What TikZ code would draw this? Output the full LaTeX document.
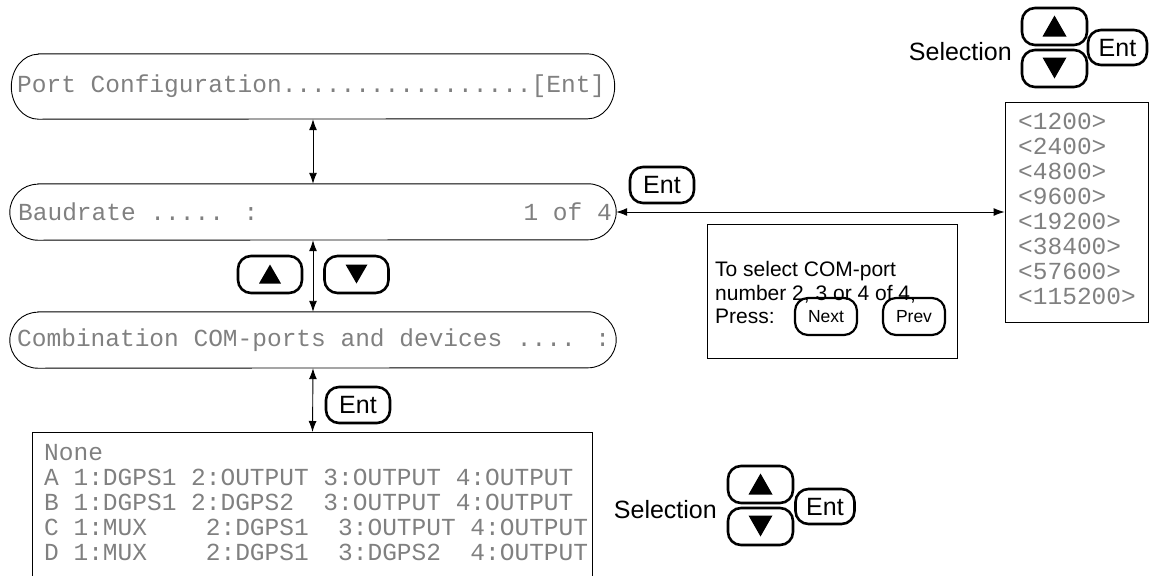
\documentclass[tikz,border=0pt]{standalone}
\usepackage{fontspec}
\setmainfont{Liberation Sans}
\newfontfamily\lcdfont{Liberation Mono}
\usetikzlibrary{arrows.meta}
\newcommand\lcdoutline[3]{%
  \draw[plain] ([xshift=#2]#1.north west) -- ([xshift=-#2]#1.north east)
    arc[start angle=90,end angle=-90,x radius=#2,y radius=#3]
    -- ([xshift=#2]#1.south west)
    arc[start angle=270,end angle=90,x radius=#2,y radius=#3] -- cycle;}
\tikzset{
  lcd/.style={font=\lcdfont\fontsize{24.5}{25}\selectfont, text=black!50, inner sep=0pt},
  slot/.style={draw=none, rectangle, inner sep=0pt},
  plain/.style={draw, line width=0.9pt},
  keybtn/.style={draw, line width=2.6pt, rounded corners=13pt, inner sep=0pt,
    minimum width=64pt, minimum height=37pt, font=\fontsize{25}{25}\selectfont},
  keysmall/.style={keybtn, line width=2.2pt, minimum width=62pt, font=\fontsize{17.5}{18}\selectfont},
  label/.style={inner sep=0pt, font=\fontsize{25}{25}\selectfont},
  infotext/.style={inner sep=0pt, anchor=west, font=\fontsize{21}{21}\selectfont},
  link/.style={draw, line width=0.9pt, {Latex[length=11pt,width=8pt]}-{Latex[length=11pt,width=8pt]}}
}
\begin{document}
\begin{tikzpicture}[x=1pt,y=1pt]
\useasboundingbox (0,0) rectangle (1152,-576);

% LCD display rows
\node[slot, minimum width=603pt, minimum height=65pt] (p1) at (313,-86.5) {};
\lcdoutline{p1}{27pt}{32.5pt}
\node[lcd, anchor=west] (t1) at (17,-86.5) {Port Configuration.................[Ent]};

\node[slot, minimum width=606pt, minimum height=56pt] (p2) at (313,-212) {};
\lcdoutline{p2}{28pt}{28pt}
\node[lcd, anchor=west] (t2) at (18,-212) {Baudrate ..... :};
\node[lcd, anchor=east] (t2b) at (612,-212) {1 of 4};

\node[slot, minimum width=606pt, minimum height=56pt] (p3) at (313,-340) {};
\lcdoutline{p3}{28pt}{28pt}
\node[lcd, anchor=west] (t3) at (17,-340) {Combination COM-ports and devices .... :};

% options box (open at the bottom)
\node[slot, minimum width=559pt, minimum height=160pt, anchor=north] (opts) at (312.5,-432) {};
\draw[plain] (opts.south west) -- (opts.north west) -- (opts.north east) -- (opts.south east);
\node[lcd, anchor=north west, align=left] (optstext) at (44,-444)
 {None\\A~1:DGPS1~2:OUTPUT~3:OUTPUT~4:OUTPUT\\B~1:DGPS1~2:DGPS2~~3:OUTPUT~4:OUTPUT\\C~1:MUX~~~~2:DGPS1~~3:OUTPUT~4:OUTPUT\\D~1:MUX~~~~2:DGPS1~~3:DGPS2~~4:OUTPUT};

% baud rate list
\node[plain, minimum width=143pt, minimum height=220pt, inner sep=0pt] (list) at (1076.5,-212) {};
\node[lcd, anchor=north west, align=left] (listtext) at (1018,-113)
 {<1200>\\<2400>\\<4800>\\<9600>\\<19200>\\<38400>\\<57600>\\<115200>};

% connectors
\draw[link] (p1.south) -- (p2.north);
\draw[link] (p2.south) -- (p3.north);
\draw[link] (p3.south) -- (opts.north);
\draw[link] (p2.east) -- (list.west);

% middle keys
\node[keybtn] (mup) at (270,-274.5) {};
\fill[shift={(mup.center)}] (-11,-9) -- (11,-9) -- (0,10) -- cycle;
\node[keybtn] (mdn) at (356.5,-274.5) {};
\fill[shift={(mdn.center)}] (-11,10) -- (11,10) -- (0,-9) -- cycle;
\node[keybtn, minimum height=36pt] (entc) at (358,-405) {Ent};
\node[keybtn, minimum height=36pt] (entb) at (662,-185) {Ent};

% info box
\node[plain, minimum width=250pt, minimum height=134pt, inner sep=0pt] (info) at (832,-291) {};
\node[infotext] (i1) at (715,-271) {To select COM-port};
\node[infotext] (i2) at (715,-294) {number 2, 3 or 4 of 4,};
\node[infotext] (i3) at (715,-316) {Press:};
\node[keysmall] (nx) at (826,-316.5) {Next};
\node[keysmall] (pv) at (914,-316.5) {Prev};

% top selection group
\node[label, anchor=east] (sel1) at (1012,-52) {Selection};
\node[keybtn, minimum width=65pt] (up1) at (1054.5,-26.5) {};
\fill[shift={(up1.center)}] (-12,-10) -- (12,-10) -- (0,11) -- cycle;
\node[keybtn, minimum width=65pt] (dn1) at (1054.5,-68.5) {};
\fill[shift={(dn1.center)}] (-12,11) -- (12,11) -- (0,-10) -- cycle;
\node[keybtn, minimum width=59pt, minimum height=35pt] (ent1) at (1117.5,-47.5) {Ent};

% bottom selection group
\node[label, anchor=east] (sel2) at (717,-510) {Selection};
\node[keybtn, minimum width=65pt] (up2) at (760.5,-484.5) {};
\fill[shift={(up2.center)}] (-12,-10) -- (12,-10) -- (0,11) -- cycle;
\node[keybtn, minimum width=65pt] (dn2) at (760.5,-526.5) {};
\fill[shift={(dn2.center)}] (-12,11) -- (12,11) -- (0,-10) -- cycle;
\node[keybtn, minimum width=59pt, minimum height=35pt] (ent2) at (825,-506.5) {Ent};
\end{tikzpicture}
\end{document}
